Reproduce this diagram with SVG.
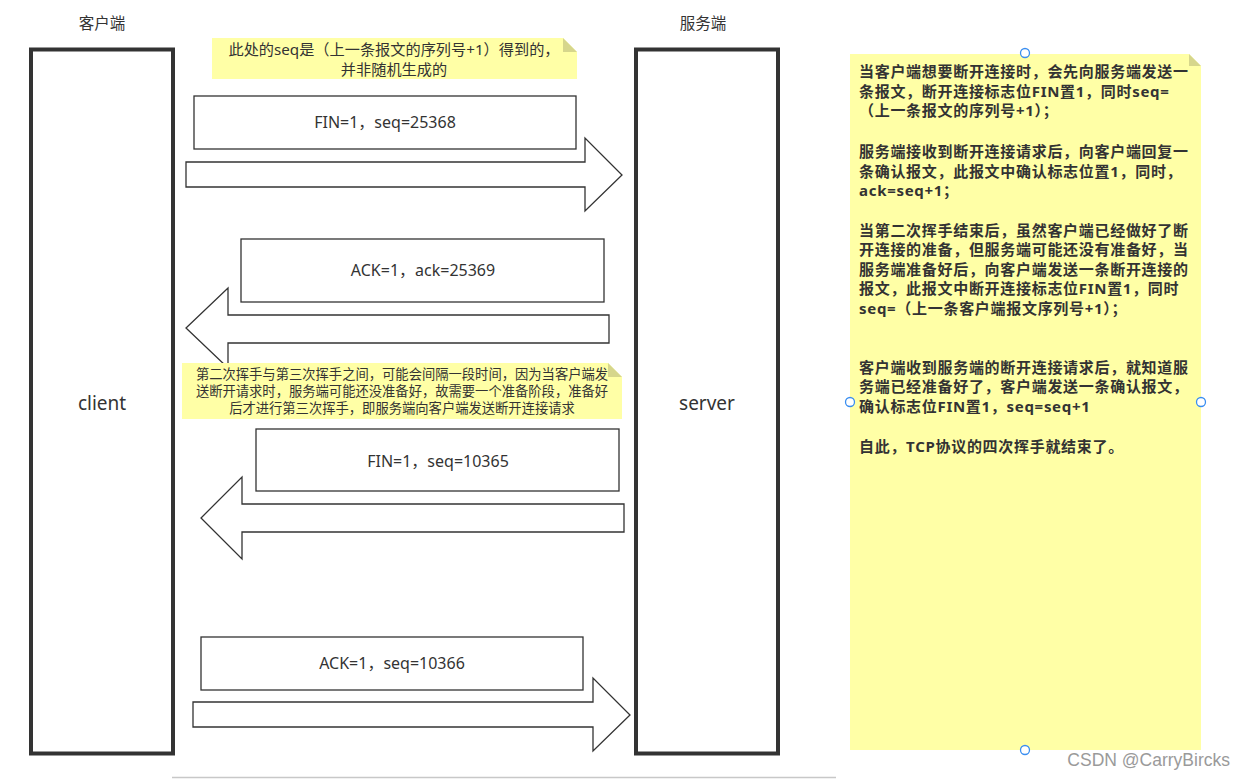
<svg xmlns="http://www.w3.org/2000/svg" width="1245" height="779" viewBox="0 0 1245 779">
<style>
text{font-family:"Noto Sans","Noto Sans CJK SC",sans-serif;fill:#333;}
.lane{fill:#fff;stroke:#333;stroke-width:4;}
.box{fill:#fff;stroke:#333;stroke-width:1.3;}
.arrow{fill:#fff;stroke:#333;stroke-width:1.3;stroke-linejoin:miter;}
.note{fill:#ffffa6;}
.fold{fill:#d6d68c;}
.c{text-anchor:middle;}
.m{font-size:15.5px;}
.lbl{font-size:16px;}
.big{font-size:15px;font-weight:bold;letter-spacing:0.7px;}
.handle{fill:#fff;stroke:#3a8ef0;stroke-width:1.3;}
</style>
<rect width="1245" height="779" fill="#fff"/>

<g id="client-lane">
<rect class="lane" x="31" y="49.5" width="142" height="704"/>
<text class="c m" x="102" y="29">客户端</text>
<text class="c" x="102" y="410" font-size="19">client</text>
</g>

<g id="server-lane">
<rect class="lane" x="636" y="49.5" width="142" height="704"/>
<text class="c m" x="703" y="29">服务端</text>
<text class="c" x="707" y="410" font-size="19">server</text>
</g>

<g id="note-seq">
<polygon class="note" points="212,38 563,38 577,52 577,79 212,79"/>
<polygon class="fold" points="563,38 577,52 563,52"/>
<text class="c" x="394" y="55" font-size="15.2">此处的seq是（上一条报文的序列号+1）得到的，</text>
<text class="c" x="394" y="75" font-size="15.2">并非随机生成的</text>
</g>

<g id="connectors">
<polygon class="arrow" points="186,162 585,162 585,138 622,175 585,211 585,187 186,187"/>
<polygon class="arrow" points="609,315 228,315 228,288 186,328 228,368 228,343 609,343"/>
<polygon class="arrow" points="624,504 242,504 242,477 201,518 242,559 242,532 624,532"/>
<polygon class="arrow" points="193,702 593,702 593,678 630,715 593,751 593,727 193,727"/>
</g>

<g id="msg1">
<rect class="box" x="194" y="96" width="382" height="53"/>
<text class="c lbl" x="385" y="128">FIN=1，seq=25368</text>
</g>

<g id="msg2">
<rect class="box" x="241" y="239" width="363" height="63"/>
<text class="c lbl" x="423" y="276">ACK=1，ack=25369</text>
</g>

<g id="note-wait">
<polygon class="note" points="182,363 608,363 622,377 622,419 182,419"/>
<polygon class="fold" points="608,363 622,377 608,377"/>
<text class="c" x="402" y="379" font-size="13.3">第二次挥手与第三次挥手之间，可能会间隔一段时间，因为当客户端发</text>
<text class="c" x="402" y="396" font-size="13.3">送断开请求时，服务端可能还没准备好，故需要一个准备阶段，准备好</text>
<text class="c" x="402" y="413" font-size="13.3">后才进行第三次挥手，即服务端向客户端发送断开连接请求</text>
</g>

<g id="msg3">
<rect class="box" x="256" y="429" width="363" height="62"/>
<text class="c lbl" x="438" y="467">FIN=1，seq=10365</text>
</g>

<g id="msg4">
<rect class="box" x="201" y="637" width="382" height="53"/>
<text class="c lbl" x="392" y="669">ACK=1，seq=10366</text>
</g>

<g id="note-explain">
<polygon class="note" points="850,54 1189,54 1201,66 1201,750 850,750"/>
<polygon class="fold" points="1189,54 1201,66 1189,66"/>
<text class="big" x="859" y="77">当客户端想要断开连接时，会先向服务端发送一</text>
<text class="big" x="859" y="96.5">条报文，断开连接标志位FIN置1，同时seq=</text>
<text class="big" x="859" y="116">（上一条报文的序列号+1）；</text>
<text class="big" x="859" y="157">服务端接收到断开连接请求后，向客户端回复一</text>
<text class="big" x="859" y="176.5">条确认报文，此报文中确认标志位置1，同时，</text>
<text class="big" x="859" y="196">ack=seq+1；</text>
<text class="big" x="859" y="235.5">当第二次挥手结束后，虽然客户端已经做好了断</text>
<text class="big" x="859" y="255">开连接的准备，但服务端可能还没有准备好，当</text>
<text class="big" x="859" y="274.5">服务端准备好后，向客户端发送一条断开连接的</text>
<text class="big" x="859" y="294">报文，此报文中断开连接标志位FIN置1，同时</text>
<text class="big" x="859" y="313.5">seq=（上一条客户端报文序列号+1）；</text>
<text class="big" x="859" y="372.5">客户端收到服务端的断开连接请求后，就知道服</text>
<text class="big" x="859" y="392">务端已经准备好了，客户端发送一条确认报文，</text>
<text class="big" x="859" y="411.5">确认标志位FIN置1，seq=seq+1</text>
<text class="big" x="859" y="451.5">自此，TCP协议的四次挥手就结束了。</text>
<circle class="handle" cx="1025" cy="53" r="4.5"/>
<circle class="handle" cx="850" cy="402" r="4.5"/>
<circle class="handle" cx="1201" cy="402" r="4.5"/>
<circle class="handle" cx="1025" cy="750" r="4.5"/>
</g>

<line x1="172" y1="777.5" x2="836" y2="777.5" stroke="#c8c8c8" stroke-width="1.5"/>
<text x="1230" y="766" text-anchor="end" font-size="17.5" style="fill:#9a9a9a;font-family:'Liberation Sans',Arial,sans-serif">CSDN @CarryBircks</text>
</svg>
